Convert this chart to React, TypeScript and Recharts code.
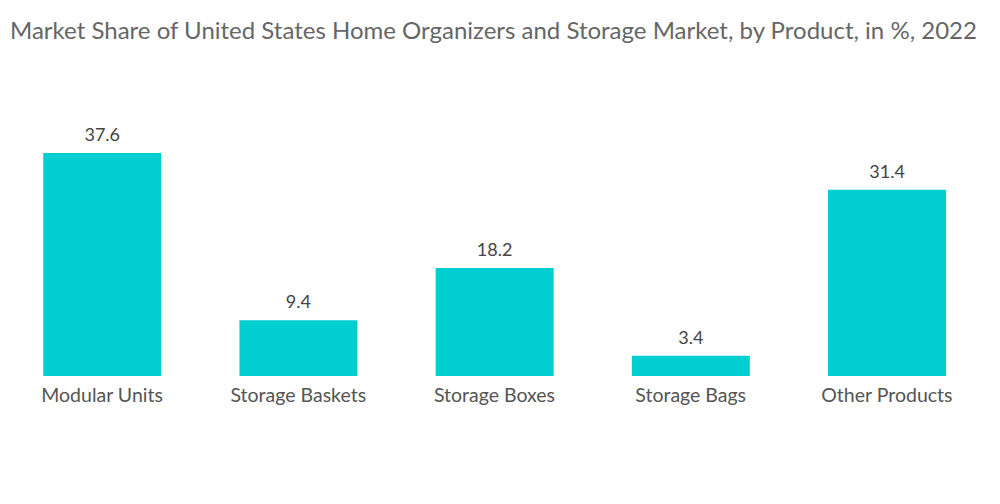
import { BarChart, Bar, XAxis, YAxis, LabelList } from 'recharts';

const categories = ['Modular Units', 'Storage Baskets', 'Storage Boxes', 'Storage Bags', 'Other Products'];
const shares = [37.6, 9.4, 18.2, 3.4, 31.4];

const data = categories.map((name, i) => ({ name, share: shares[i] }));

const FONT = 'Lato, "Open Sans", sans-serif';

export default function App() {
    return (
        <div style={{ position: 'absolute', left: 0, top: 0, width: 1000, height: 504, background: '#fff', fontFamily: FONT }}>
            <div style={{ position: 'absolute', left: 10, top: 15, fontSize: 24, color: '#666', whiteSpace: 'nowrap' }}>
                Market Share of United States Home Organizers and Storage Market, by Product, in %, 2022
            </div>
            <BarChart
                width={1000}
                height={504}
                data={data}
                margin={{ top: 153, right: 15, left: 4, bottom: 98 }}
                barCategoryGap="20%"
            >
                <XAxis
                    dataKey="name"
                    axisLine={false}
                    tickLine={false}
                    interval={0}
                    tick={{ fontSize: 19.5, fill: '#555', fontFamily: FONT }}
                    tickMargin={6}
                />
                <YAxis hide domain={[0, 37.6]} />
                <Bar dataKey="share" fill="#00CED1" isAnimationActive={false}>
                    <LabelList
                        dataKey="share"
                        position="top"
                        offset={12}
                        style={{ fontSize: 18, fill: '#444', fontFamily: FONT }}
                    />
                </Bar>
            </BarChart>
        </div>
    );
}
